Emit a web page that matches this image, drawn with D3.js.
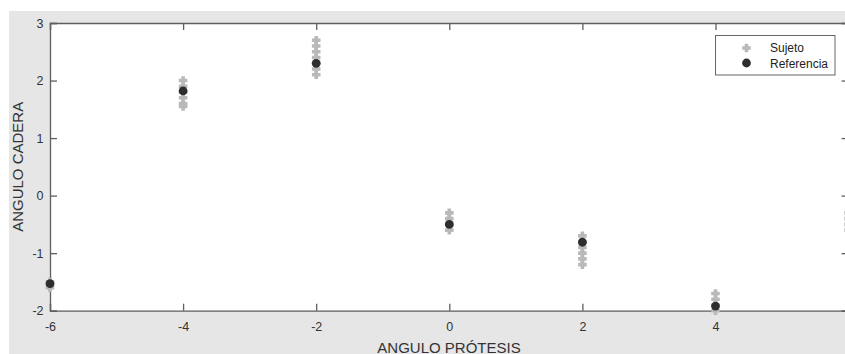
<!DOCTYPE html>
<html><head><meta charset="utf-8">
<script src="https://cdn.jsdelivr.net/npm/d3@7"></script>
<style>html,body{margin:0;padding:0;background:#fff;}svg{display:block;font-family:"Liberation Sans",Arial,sans-serif;}</style>
</head><body><svg id="c" width="845" height="354"></svg>
<script>
// Data
const sujetoX = [-6,-6, -4,-4,-4,-4,-4,-4, -2,-2,-2,-2,-2,-2,-2, 0,0,0,0, 2,2,2,2,2,2, 4,4,4,4, 6,6,6,6];
const sujetoY = [-1.5,-1.6, 2.0,1.9,1.8,1.7,1.6,1.55, 2.7,2.6,2.5,2.4,2.3,2.2,2.1, -0.3,-0.4,-0.5,-0.6, -0.7,-0.8,-0.9,-1.0,-1.1,-1.2, -1.7,-1.8,-1.9,-2.0, -0.3,-0.4,-0.5,-0.6];
const refX = [-6,-4,-2,0,2,4];
const refY = [-1.53,1.82,2.3,-0.5,-0.81,-1.92];
const xTicks = [-6,-4,-2,0,2,4,6];
const yTicks = [-2,-1,0,1,2,3];
const seriesNames = ["Sujeto","Referencia"];

const svg = d3.select("#c");
svg.append("rect").attr("x",9).attr("y",11).attr("width",836).attr("height",343).attr("fill","#e6e6e6");

const L=50, R=848.6, T=23, B=310.7;
const x = d3.scaleLinear().domain([-6,6]).range([L,R]);
const y = d3.scaleLinear().domain([-2,3]).range([B,T]);

svg.append("rect").attr("x",L).attr("y",T).attr("width",R-L).attr("height",B-T).attr("fill","#fff");

const axCol="#5f5f5f";
const gB = svg.append("g").attr("transform",`translate(0,${B})`).call(d3.axisBottom(x).tickValues(xTicks).tickSize(-7).tickPadding(11).tickFormat(d3.format("d")));
const gT = svg.append("g").attr("transform",`translate(0,${T})`).call(d3.axisTop(x).tickValues(xTicks).tickSize(-7).tickFormat(""));
const gL = svg.append("g").attr("transform",`translate(${L},0)`).call(d3.axisLeft(y).tickValues(yTicks).tickSize(-7).tickPadding(6.5).tickFormat(d3.format("d")));
const gR = svg.append("g").attr("transform",`translate(${R},0)`).call(d3.axisRight(y).tickValues(yTicks).tickSize(-7).tickFormat(""));
[gB,gT,gL,gR].forEach(g=>{
  g.select(".domain").attr("stroke",axCol).attr("stroke-width",1.3);
  g.selectAll(".tick line").attr("stroke",axCol).attr("stroke-width",1.3);
  g.selectAll(".tick text").attr("fill","#333").style("font-size","12.5px").style("font-family","'Liberation Sans',Arial,sans-serif");
});
gB.selectAll(".tick text").text(d=>d<0?"-"+Math.abs(d):d);
gL.selectAll(".tick text").text(d=>d<0?"-"+Math.abs(d):d);

const plusPath = (cx,cy,s)=>`M${cx-s},${cy}H${cx+s}M${cx},${cy-s}V${cy+s}`;
const suj = sujetoX.map((v,i)=>({x:v,y:sujetoY[i]}));
svg.append("g").selectAll("path").data(suj).join("path")
  .attr("d",d=>plusPath(x(d.x),y(d.y),4.3)).attr("stroke","#b9b9b9").attr("stroke-width",3.6).attr("fill","none");
const ref = refX.map((v,i)=>({x:v,y:refY[i]}));
svg.append("g").selectAll("circle").data(ref).join("circle")
  .attr("cx",d=>x(d.x)).attr("cy",d=>y(d.y)).attr("r",4.4).attr("fill","#2e2e2e");

// legend
const lg = svg.append("g");
lg.append("rect").attr("x",715.5).attr("y",35.5).attr("width",119.5).attr("height",39.5).attr("fill","#fff").attr("stroke","#666").attr("stroke-width",1);
lg.append("path").attr("d",plusPath(746.5,48,4.3)).attr("stroke","#b9b9b9").attr("stroke-width",3.6);
lg.append("circle").attr("cx",746.5).attr("cy",63).attr("r",4.4).attr("fill","#2e2e2e");
lg.append("text").attr("x",770).attr("y",52).text(seriesNames[0]).style("font-size","12px").attr("fill","#222");
lg.append("text").attr("x",770).attr("y",67.5).text(seriesNames[1]).style("font-size","12px").attr("fill","#222");

// axis titles
svg.append("text").attr("x",449).attr("y",352.5).attr("text-anchor","middle").style("font-size","15px").attr("fill","#333").text("ANGULO PRÓTESIS");
svg.append("text").attr("transform",`translate(23,${(T+B)/2}) rotate(-90)`).attr("text-anchor","middle").style("font-size","15px").attr("fill","#333").text("ANGULO CADERA");
</script></body></html>
